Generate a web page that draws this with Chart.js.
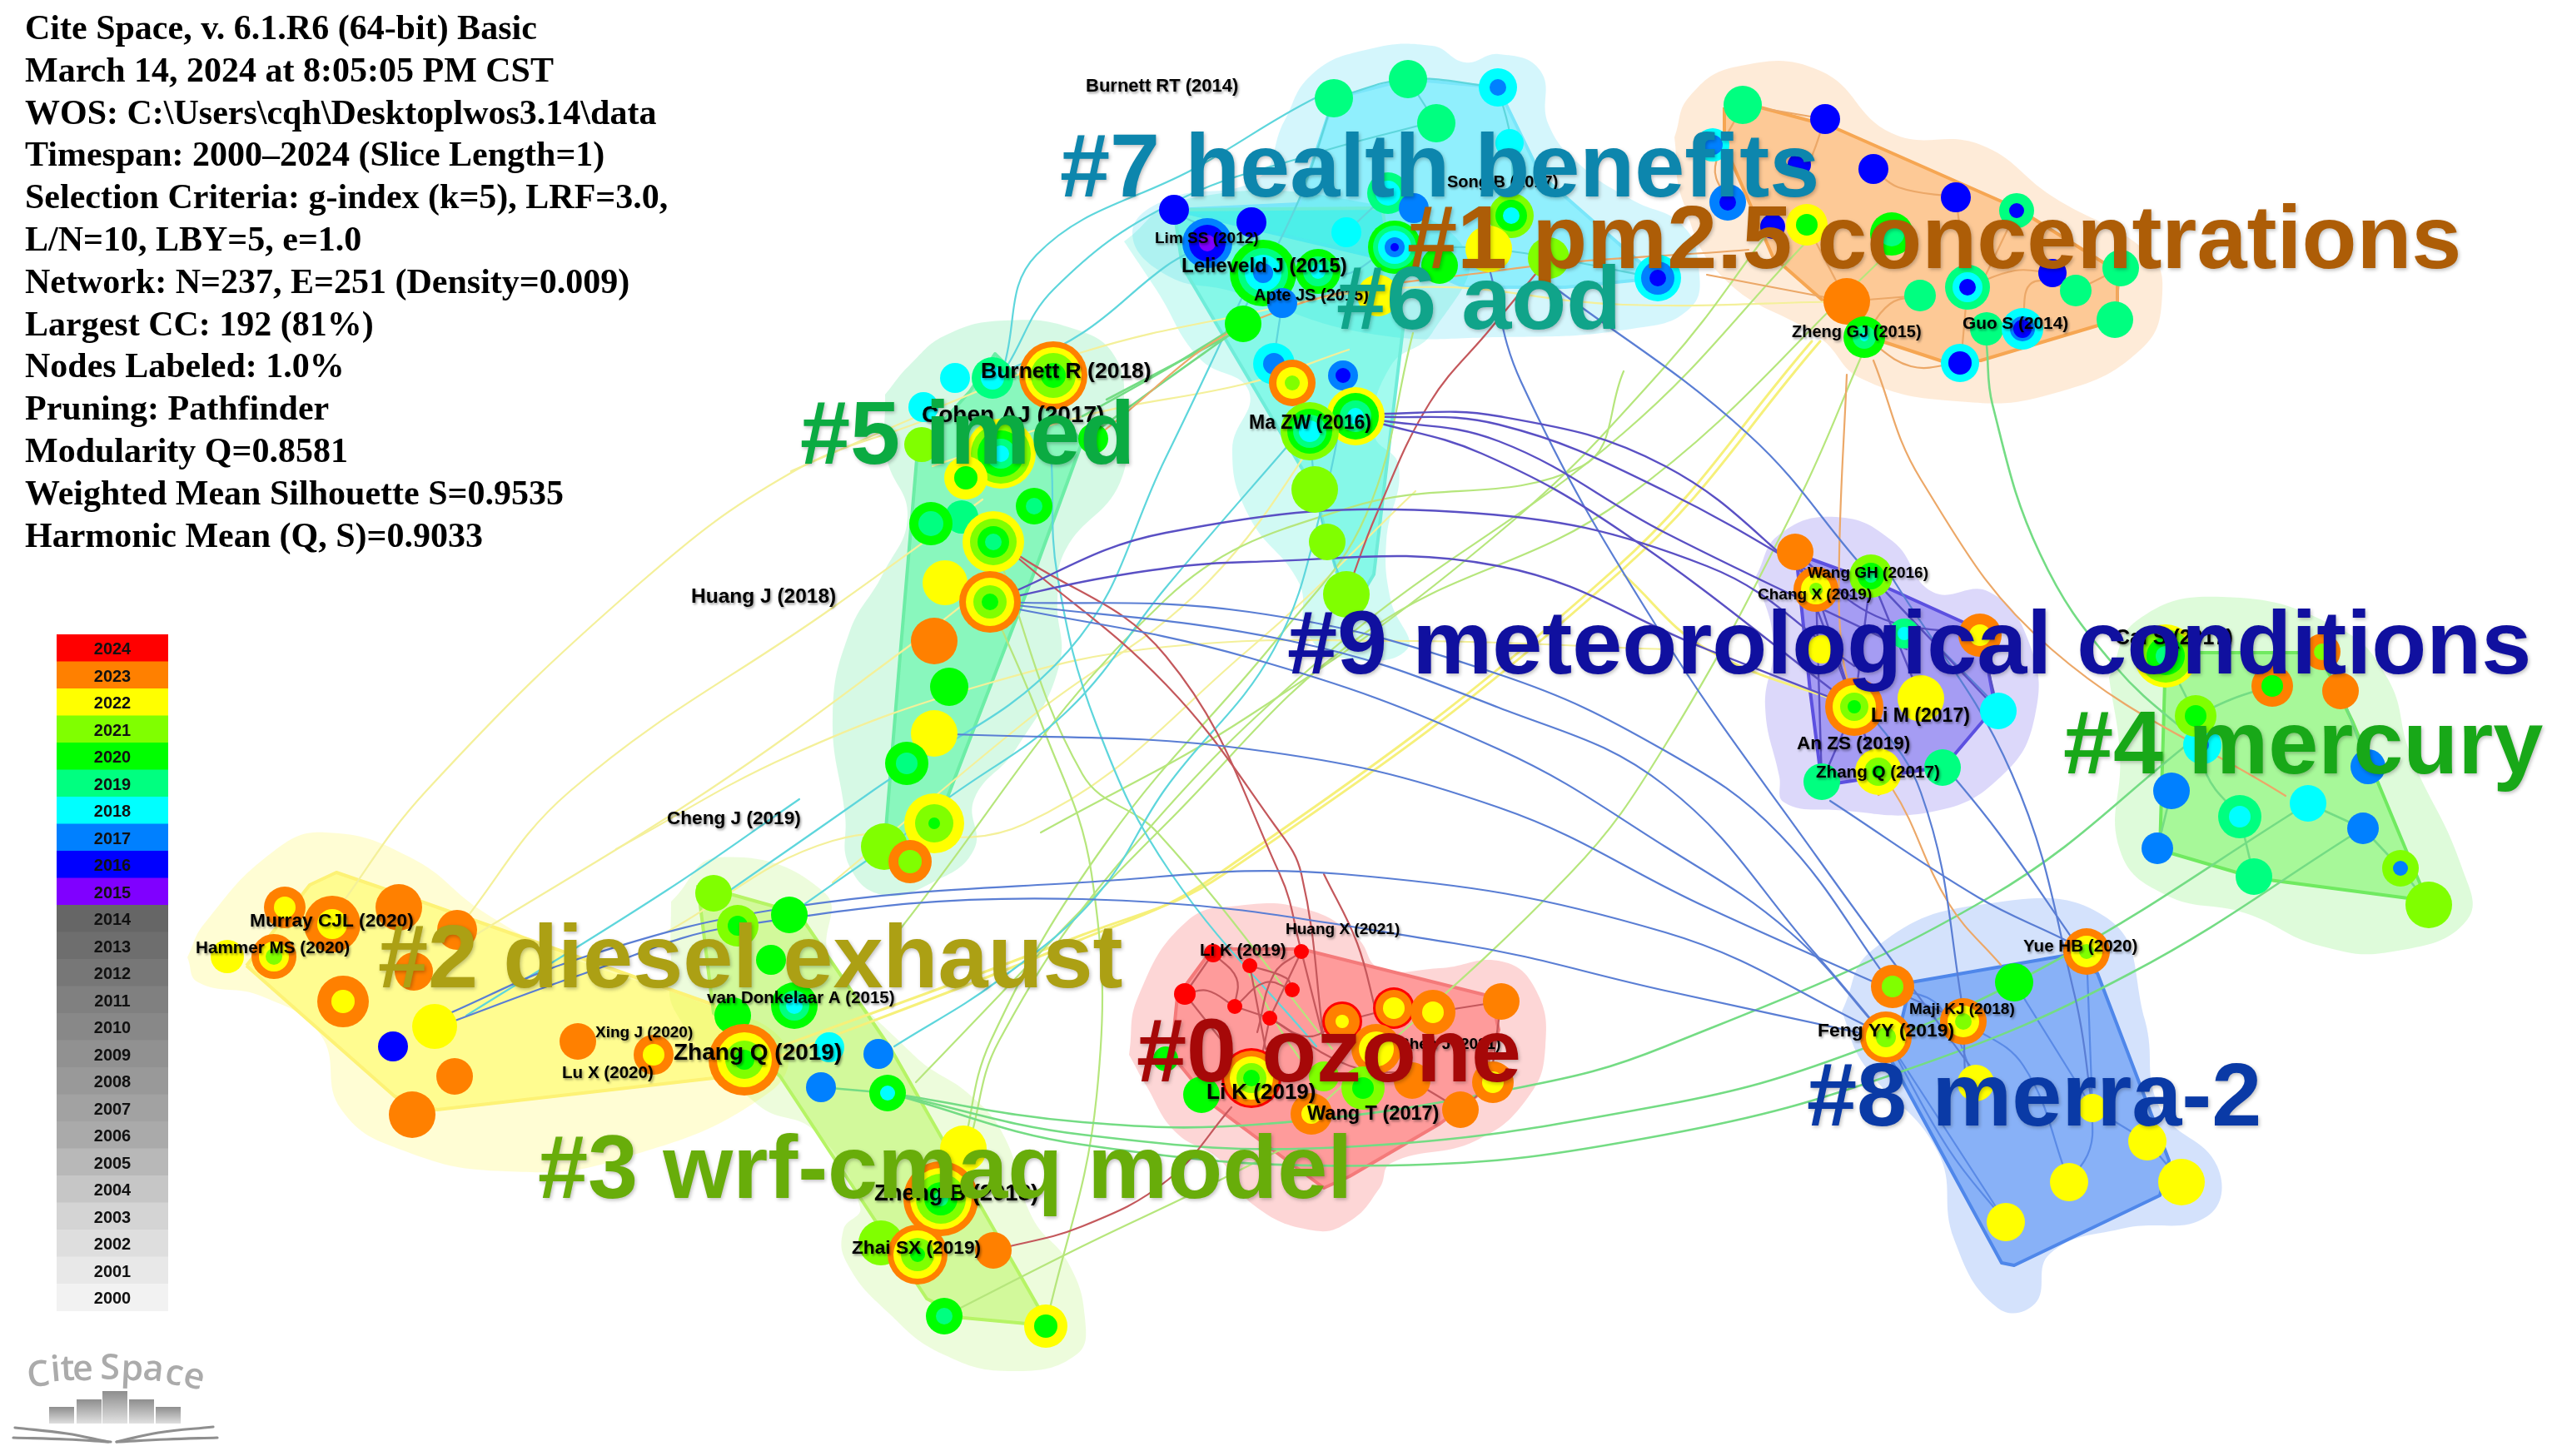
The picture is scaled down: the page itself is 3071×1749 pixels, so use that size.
<!DOCTYPE html>
<html><head><meta charset="utf-8">
<script src="https://cdn.jsdelivr.net/npm/chart.js@4"></script>
<style>html,body{margin:0;padding:0;background:#fff;overflow:hidden}canvas{display:block;filter:blur(0.7px)}</style>
</head><body><canvas id="c" width="3071" height="1749"></canvas>
<script>
const infoLines=["Cite Space, v. 6.1.R6 (64-bit) Basic","March 14, 2024 at 8:05:05 PM CST","WOS: C:\\Users\\cqh\\Desktoplwos3.14\\data","Timespan: 2000–2024 (Slice Length=1)","Selection Criteria: g-index (k=5), LRF=3.0,","L/N=10, LBY=5, e=1.0","Network: N=237, E=251 (Density=0.009)","Largest CC: 192 (81%)","Nodes Labeled: 1.0%","Pruning: Pathfinder","Modularity Q=0.8581","Weighted Mean Silhouette S=0.9535","Harmonic Mean (Q, S)=0.9033"];
const legendYears=[2024,2023,2022,2021,2020,2019,2018,2017,2016,2015,2014,2013,2012,2011,2010,2009,2008,2007,2006,2005,2004,2003,2002,2001,2000];
const legendColors=["#ff0000","#ff8000","#ffff00","#80ff00","#00ff00","#00ff80","#00ffff","#0080ff","#0000ff","#8000ff","#666666","#6e6e6e","#777777","#808080","#888888","#919191","#999999","#a2a2a2","#aaaaaa","#b8b8b8","#c6c6c6","#d4d4d4","#dedede","#e8e8e8","#f2f2f2"];
const titleTexts=["#7 health benefits","#1 pm2.5 concentrations","#6 aod","#5 imed","#9 meteorological conditions","#4 mercury","#2 diesel exhaust","#3 wrf-cmaq model","#0 ozone","#8 merra-2"];
const titleX=[1273,1690,1605,961,1546,2478,454,646,1365,2170];
const titleY=[236,322,395,557,809,929,1186,1439,1299,1352];
const titleColors=["#0d86ad","#ad5d07","#10a48a","#0bab42","#10109f","#18a818","#aca014","#68ad0a","#a60808","#0a3aa6"];
const labelTexts=["Burnett RT (2014)","Burnett R (2018)","Cohen AJ (2017)","Lim SS (2012)","Lelieveld J (2015)","Apte JS (2015)","Song B (2017)","Ma ZW (2016)","Huang J (2018)","Cheng J (2019)","Murray CJL (2020)","Hammer MS (2020)","van Donkelaar A (2015)","Xing J (2020)","Lu X (2020)","Zhang Q (2019)","Li K (2019)","Huang X (2021)","Li K (2019)","Wang T (2017)","Shen J (2021)","Zheng B (2018)","Zhai SX (2019)","Zheng GJ (2015)","Guo S (2014)","Wang GH (2016)","Chang X (2019)","Li M (2017)","An ZS (2019)","Zhang Q (2017)","Cai S (2017)","Yue HB (2020)","Maji KJ (2018)","Feng YY (2019)"];
const labelX=[1304,1178,1107,1387,1419,1506,1738,1500,830,801,300,235,849,715,675,809,1441,1544,1449,1570,1680,1050,1023,2152,2357,2171,2111,2247,2158,2181,2540,2430,2293,2183];
const labelY=[110,454,507,292,327,361,225,515,724,990,1113,1145,1205,1246,1295,1273,1148,1122,1320,1345,1260,1442,1506,405,395,694,720,867,900,934,774,1143,1218,1245];
const labelSize=[22,26.5,28,19,24,20,20,23,24.5,22.6,22.7,20.7,20.5,19,20.6,28,20.5,19,26,23.5,19,27.5,22.7,20,20.8,19,19,23,22.5,20.6,25,20.6,19,22.9];
// each node: x, y, then radius/year pairs from the outer tree ring inward
const nodes7=[[1602,118,23,2019],[1691,95,23,2019],[1799,105,23,2018,10,2017],[1725,148,23,2019],[1813,172,17,2018],[1667,232,25,2019,15,2018],[1698,250,18,2017],[1815,259,27,2021,19,2020,10,2018],[1617,279,18,2018],[1729,319,22,2020],[1675,297,32,2020,26,2019,20,2018,12,2017,5,2016],[1788,299,28,2022],[1860,310,25,2021],[1991,334,28,2018,20,2017,10,2016],[2075,243,22,2017,10,2016],[2057,174,20,2018,12,2017]];
const nodes6=[[1410,252,18,2016],[1503,267,18,2016],[1450,292,30,2017,22,2016,10,2015],[1517,328,40,2020,30,2019,22,2018,12,2017],[1583,326,27,2020,18,2019,9,2018],[1540,364,18,2017],[1655,355,25,2022],[1493,389,22,2020],[1530,437,25,2018,13,2017],[1552,460,28,2023,19,2022,9,2021],[1613,451,18,2017,9,2016],[1628,500,35,2022,28,2020,19,2019,10,2018],[1573,518,35,2021,27,2020,20,2019,13,2018],[1579,588,28,2021],[1594,651,22,2021],[1617,714,28,2021]];
const nodes5=[[1147,454,18,2018],[1192,454,25,2019,14,2018],[1265,451,41,2023,34,2022,27,2021,15,2020],[1109,489,18,2018],[1107,534,21,2021],[1202,545,42,2022,36,2021,28,2020,18,2019,10,2018],[1160,574,26,2022,14,2020],[1313,527,18,2020],[1242,608,22,2020,10,2019],[1155,621,20,2019],[1118,629,26,2020,15,2019],[1193,651,37,2022,28,2021,19,2020,10,2019],[1135,700,27,2022],[1189,723,37,2023,29,2022,20,2021,10,2020],[1122,770,28,2023],[1140,825,23,2020],[1122,881,28,2022],[1089,917,26,2020,13,2019],[1122,989,36,2022,23,2021,7,2020],[1062,1017,28,2021],[1093,1035,26,2023,14,2021]];
const nodes2=[[342,1090,25,2023,13,2022],[399,1110,34,2023,18,2022],[479,1090,28,2023],[549,1117,24,2023],[273,1149,20,2022],[329,1149,27,2023,18,2022,10,2021],[497,1167,23,2023],[412,1203,31,2023,14,2022],[522,1233,27,2022],[472,1257,18,2016],[546,1293,22,2023],[495,1339,28,2023],[694,1251,22,2023],[785,1267,24,2023,13,2022]];
const nodes3=[[857,1073,22,2021],[886,1112,25,2021,12,2020],[948,1099,22,2020],[926,1153,18,2020],[954,1208,28,2020,18,2019,10,2018],[880,1220,22,2020],[894,1273,43,2023,33,2022,23,2021,12,2020],[996,1258,18,2018],[1055,1266,18,2017],[986,1306,18,2017],[1066,1313,22,2020,9,2018],[1157,1380,28,2022],[1130,1440,45,2023,37,2022,30,2021,20,2020,9,2019],[1058,1493,27,2021],[1102,1507,36,2023,29,2022,20,2021,9,2020],[1193,1502,22,2023],[1134,1581,22,2020,10,2019],[1256,1593,26,2022,14,2020]];
const nodes0=[[1457,1145,11,2024],[1501,1160,9,2024],[1563,1143,9,2024],[1423,1194,13,2024],[1552,1189,9,2024],[1483,1209,9,2024],[1525,1223,9,2024],[1612,1227,24,2024,21,2023,8,2022],[1674,1211,25,2024,22,2023,13,2022],[1721,1216,27,2023,13,2022],[1803,1203,22,2023],[1653,1260,30,2023,21,2022],[1696,1298,22,2023],[1793,1300,25,2023,13,2022],[1754,1333,22,2023],[1400,1272,15,2020],[1443,1315,22,2020],[1590,1293,18,2021],[1503,1295,36,2024,33,2023,26,2022,18,2021,10,2020],[1637,1307,26,2021,13,2020],[1575,1338,25,2023,12,2022]];
const nodes1=[[2093,126,23,2019],[2192,143,18,2016],[2250,203,18,2016],[2349,237,18,2016],[2422,253,21,2019,9,2016],[2129,272,15,2016],[2161,198,14,2016],[2170,270,25,2022,13,2020],[2272,281,26,2020,15,2019],[2547,322,22,2019],[2465,328,17,2016],[2493,349,19,2019],[2363,345,27,2019,18,2018,10,2016],[2306,355,19,2019],[2218,362,28,2023],[2540,384,22,2019],[2386,395,20,2019],[2429,395,25,2018,15,2017,11,2016],[2239,405,25,2020,14,2019,5,2018],[2354,436,23,2018,14,2016]];
const nodes9=[[2156,663,22,2023],[2247,692,26,2021,16,2020,8,2019],[2181,708,27,2023,18,2022,8,2021],[2287,761,18,2019,8,2018],[2378,763,26,2023,13,2022],[2188,780,17,2022],[2307,839,28,2022],[2227,849,35,2023,26,2022,17,2021,8,2020],[2400,854,22,2018],[2333,922,22,2019],[2188,939,22,2019],[2256,927,28,2022,17,2021,8,2020]];
const nodes4=[[2601,788,38,2022,32,2021,23,2020,12,2019],[2789,783,22,2023,10,2021],[2729,824,25,2023,13,2020],[2811,830,22,2023],[2645,895,23,2018,8,2017],[2637,860,25,2021,13,2020],[2844,921,21,2017],[2608,950,22,2017],[2690,981,26,2019,13,2018],[2772,965,22,2018],[2838,995,19,2017],[2591,1019,19,2017],[2883,1043,22,2021,9,2017],[2707,1053,22,2019],[2917,1087,28,2021]];
const nodes8=[[2506,1143,28,2023,19,2022,9,2021],[2273,1185,26,2023,13,2021],[2419,1180,23,2020],[2358,1227,28,2023,19,2022,10,2021],[2265,1246,31,2023,24,2022,12,2021],[2373,1301,22,2022],[2513,1331,17,2022],[2579,1371,23,2022],[2620,1420,28,2022],[2485,1420,23,2022],[2409,1468,23,2022]];
// cluster shapes: [x,y,...]
const outerBlobs=[
[1540,150,1575,90,1640,60,1720,55,1760,75,1800,65,1850,85,1860,150,1900,200,1960,240,2020,270,2040,320,2030,370,1960,395,1800,405,1640,400,1480,350,1400,330,1360,280,1400,240,1510,215],
[1350,290,1420,240,1620,240,1760,300,1720,400,1670,440,1650,520,1680,560,1665,650,1670,720,1690,780,1610,790,1570,760,1560,700,1500,620,1480,540,1500,470,1440,430,1390,350],
[1063,474,1093,438,1137,402,1207,385,1290,395,1340,430,1350,500,1345,580,1280,660,1270,720,1272,800,1220,900,1170,960,1170,1020,1120,1060,1060,1075,1020,1040,1015,980,1000,860,1020,760,1060,690,1090,620,1065,550],
[225,1150,245,1110,328,1023,391,1000,493,1030,583,1097,685,1150,838,1203,940,1250,927,1310,742,1393,608,1407,487,1383,410,1333,385,1243,315,1197,238,1180],
[806,1083,863,1030,991,1073,997,1150,1097,1267,1167,1317,1207,1367,1240,1463,1283,1517,1303,1583,1293,1627,1217,1647,1133,1627,1067,1577,1017,1517,1013,1477,1033,1450,980,1360,910,1327,812,1217,806,1150],
[1356,1267,1367,1197,1425,1107,1487,1088,1568,1092,1630,1127,1657,1163,1729,1163,1804,1155,1845,1190,1856,1257,1836,1317,1773,1370,1671,1397,1657,1427,1621,1467,1577,1478,1505,1447,1465,1393,1412,1360,1376,1303],
[2011,165,2029,116,2086,80,2186,85,2272,160,2379,174,2465,236,2579,303,2597,352,2572,419,2465,473,2350,482,2236,455,2186,406,2071,335,2021,241],
[2109,692,2137,642,2205,621,2273,650,2321,711,2389,711,2437,772,2444,860,2403,933,2321,975,2205,973,2143,964,2137,933,2120,849,2130,772],
[2533,814,2567,745,2669,717,2806,753,2867,814,2895,906,2956,1040,2963,1105,2874,1143,2786,1136,2697,1097,2601,1075,2546,1021,2546,906],
[2212,1215,2249,1141,2376,1087,2531,1103,2576,1225,2594,1331,2663,1401,2651,1461,2548,1476,2462,1506,2444,1566,2399,1571,2347,1489,2327,1383,2238,1278]];
const innerHulls=[
[1602,118,1691,95,1799,105,1850,210,1991,334,1880,345,1760,345,1700,320,1410,252,1560,245],
[1410,252,1660,250,1685,395,1650,690,1620,740,1578,587,1420,320],
[1102,540,1165,470,1195,425,1240,470,1300,530,1245,680,1137,960,1100,1010,1062,1020,1080,800],
[296,1160,372,1063,404,1048,506,1083,857,1207,901,1290,525,1333,474,1317],
[838,1063,959,1097,1070,1260,1247,1570,1233,1590,1157,1583,1113,1560,937,1293,857,1217],
[1456,1140,1563,1140,1791,1197,1800,1237,1773,1317,1729,1350,1621,1413,1590,1427,1456,1327,1407,1267,1414,1197],
[2071,129,2114,129,2200,152,2422,250,2543,326,2543,384,2379,433,2336,435,2236,402,2129,308,2071,174],
[2157,665,2253,700,2379,757,2396,849,2335,921,2205,941,2188,941,2174,830],
[2601,784,2785,784,2826,868,2915,1082,2710,1055,2594,1021],
[2295,1180,2479,1148,2519,1169,2605,1394,2594,1436,2419,1520,2404,1517,2272,1275]];
const blobColors=["rgba(0,200,235,.17)","rgba(0,225,195,.18)","rgba(0,215,95,.16)","rgba(255,245,60,.22)","rgba(150,240,50,.17)","rgba(245,60,60,.21)","rgba(250,150,50,.19)","rgba(70,50,230,.19)","rgba(70,235,50,.18)","rgba(40,110,240,.20)"];
const hullColors=["rgba(0,225,255,.32)","rgba(0,245,210,.36)","rgba(0,245,120,.36)","rgba(255,250,50,.42)","rgba(165,245,50,.38)","rgba(255,50,50,.36)","rgba(250,150,50,.40)","rgba(60,40,230,.34)","rgba(70,245,40,.36)","rgba(30,110,240,.42)"];
const hullEdges=["#7ae6fa","#6fecd9","#6ceda6","#fdf275","#b6f465","#f47a7a","#f6a652","#5c50e0","#70ea60","#4f87ea"];
// links as curved paths through read-off points
const linksYellow=[[400,1100,512,950,769,700,950,568,1110,505],[549,1117,685,950,1000,730,1180,600],[560,1130,850,950,1100,770,1190,700],[740,1020,950,907,1183,822,1400,777,1700,770,2000,780],[950,566,1150,480,1300,423,1469,383,1700,345,1950,366,2218,362],[1000,1060,1240,860,1450,700,1620,470],[1120,560,1300,500,1500,460,1620,420],[800,1120,1000,1010,1230,990,1500,780,1700,590]];
const linksYellowThick=[[2186,410,1950,683,1470,1050,1300,1123,894,1273],[2176,410,1940,683,1460,1052,1295,1130,894,1285],[1950,690,2050,780,2227,849]];
const linksLime=[[2239,420,2157,607,2000,895,1885,1050,1575,1338],[1134,1581,1300,1497,1434,1433,1540,1380],[1189,723,1250,867,1311,1050,1317,1317,1256,1593],[1157,1380,1190,1250,1330,1010,1540,760,1640,620,1697,400],[1165,1370,1200,1250,1350,1030,1600,780,1950,520,2170,290],[1100,1300,1400,990,1640,760,1950,600,2272,300],[1250,1000,1500,860,1800,640,2000,440,2129,272],[1070,1130,1400,720,1620,610,1900,560,1950,446],[1193,651,1300,930,1390,1000,1600,1260],[1500,1170,1560,1270,1590,1290]];
const linksBlue=[[1189,723,1500,735,1800,810,2000,902,2137,1002,2273,1185],[1189,723,1550,770,1800,850,2000,944,2178,1143,2265,1246],[1189,725,1500,790,1800,900,2000,1017,2150,1120,2265,1246],[1122,881,1500,900,1800,970,2050,1090,2358,1227],[522,1225,700,1150,948,1090,1300,1060,1612,1050,2000,1120,2258,1240],[522,1235,700,1170,886,1112,1300,1080,1746,1133,2000,1190,2258,1246],[1788,320,1827,459,1988,750,2184,1032,2373,1290],[1860,340,2100,522,2247,692,2400,850],[2198,962,2376,1078,2478,1128,2506,1143],[2324,906,2400,1000,2492,1132],[2225,830,2307,952,2355,1197,2360,1290],[2270,690,2416,929,2492,1197,2513,1331]];
const linksPurple=[[1645,497,1800,500,2000,560,2180,700],[1645,500,1800,510,2000,590,2230,720],[1645,503,1800,530,2000,640,2290,780],[1645,505,1780,545,1950,640,2227,849],[1189,723,1400,640,1750,615,2050,680,2227,800],[1189,723,1350,690,1500,675,1800,680,2050,780,2227,849],[2156,663,2253,740,2378,763],[2181,708,2227,849],[2247,692,2227,849],[2247,692,2307,839],[2247,692,2400,854],[2181,708,2188,939],[2227,849,2188,939],[2156,663,2227,849],[2378,763,2400,854],[2227,849,2256,927]];
const linksRed=[[1220,665,1400,788,1537,1050,1563,1143],[1220,668,1400,822,1530,990,1563,1050,1590,1250],[1860,310,1790,395,1717,484,1653,618,1617,714],[1590,1050,1630,1133,1653,1217],[1193,1502,1300,1473,1403,1417,1479,1330],[1457,1145,1423,1194],[1423,1194,1450,1190,1483,1209],[1457,1145,1485,1175,1483,1209],[1501,1160,1545,1175,1552,1189],[1563,1143,1525,1223],[1563,1143,1530,1170,1510,1240],[1483,1209,1525,1223],[1483,1209,1520,1180,1552,1189],[1525,1223,1570,1245,1612,1227],[1612,1227,1674,1211],[1721,1216,1803,1203],[1803,1203,1790,1300],[1754,1333,1793,1300],[1696,1298,1754,1333],[1563,1143,1590,1250],[1501,1160,1520,1260],[1525,1223,1510,1295],[1423,1194,1503,1295],[1525,1223,1620,1280,1700,1290]];
const linksTeal=[[1206,439,1245,306,1441,199,1581,117,1602,118],[1210,439,1266,347,1406,245,1581,184,1715,148],[1210,445,1300,400,1400,320,1450,292],[876,1070,1048,950,1283,782,1400,550,1500,340],[948,1099,1042,1033,1090,1000],[1074,1257,1200,1177,1317,1076,1400,947,1530,780,1590,600,1620,450],[1137,960,1283,853,1400,706,1560,520],[1263,558,1270,692,1317,871,1407,1050,1581,1257],[1602,118,1691,95,1799,105],[1691,95,1725,148],[1799,105,1815,172,1815,259],[1617,279,1667,232],[1530,430,1540,364],[1579,588,1594,651,1617,714],[1573,518,1579,588],[1675,297,1800,300,1991,334],[1602,118,1560,240,1490,380],[1400,252,1600,330,1680,290],[560,1220,800,1070,960,960]];
const linksGreen=[[1067,1313,1300,1348,1520,1350,1822,1307,2000,1257,2389,1078,2645,880],[1067,1313,1300,1363,1612,1378,2000,1327,2226,1264,2467,1155,2772,965],[1067,1313,1300,1375,1670,1400,2000,1363,2290,1285,2559,1169,2838,995],[986,1306,1067,1313],[2386,415,2393,486,2450,665,2540,800,2650,900],[2601,788,2637,860],[2637,860,2680,840,2729,824],[2637,860,2650,930,2690,981],[2608,950,2591,1019],[2690,981,2707,1053],[2772,965,2838,995],[2811,830,2844,921],[2838,995,2883,1043],[2883,1043,2917,1087],[1329,480,1476,403],[1300,500,1400,444,1473,399],[1300,530,1400,457,1473,405]];
const linksOrange=[[2250,433,2307,576,2464,780,2745,956],[2218,450,2209,665,2212,780,2227,849],[2256,955,2273,948,2341,1086,2403,1159],[1313,527,1511,383,1800,325,2100,300],[2093,126,2192,143],[2192,143,2170,200,2161,198],[2250,203,2280,225,2349,237],[2349,237,2363,345],[2218,362,2306,355],[2170,270,2218,362],[2239,405,2270,365,2306,355],[2363,345,2420,325,2465,328],[2429,395,2440,340,2493,349],[2493,349,2547,322],[2547,322,2540,384],[2354,436,2295,440,2239,405],[2363,345,2355,436],[2422,253,2385,330],[2050,330,2218,362],[2093,126,2060,200,2075,243]];
const linksPale=[[2273,1185,2330,1210,2373,1301],[2358,1227,2430,1280,2485,1420],[2513,1331,2510,1380,2485,1420],[2506,1143,2513,1331],[2419,1180,2513,1331],[2513,1331,2579,1371],[2579,1371,2620,1420],[2265,1246,2409,1468],[2265,1246,2340,1380,2409,1468]];
const logoLetters=["C","i","t","e","S","p","a","c","e"];
const logoX=[48,68,82,100,132,158,183,207,230];
const logoY=[1665,1659,1658,1658,1657,1658,1658,1663,1667];
const logoTilt=[-8,-5,-3,-2,0,3,6,11,14];
const logoBarX=[74,107,138,170,202];
const logoBarTop=[1690,1681,1671,1681,1690];
const logoBook=[[18,1715,80,1722,130,1732],[16,1727,80,1729,133,1732],[140,1732,190,1721,256,1714],[140,1732,200,1729,261,1727]];

const pts=f=>{const o=[];for(let i=0;i<f.length;i+=2)o.push({x:f[i],y:f[i+1]});return o;};
const closed=f=>{const p=pts(f);p.push({...p[0]});return p;};
const yearColor=y=>legendColors[legendYears.indexOf(y)];
const ds=[];
const curve=(f,color,w,tension)=>ds.push({type:'scatter',showLine:true,data:pts(f),borderColor:color,borderWidth:w,pointRadius:0,tension:tension,fill:false,borderCapStyle:'round'});
outerBlobs.forEach((b,i)=>ds.push({type:'scatter',showLine:true,data:closed(b),backgroundColor:blobColors[i],borderWidth:0,borderColor:'transparent',pointRadius:0,tension:.45,fill:'shape'}));
innerHulls.forEach((b,i)=>ds.push({type:'scatter',showLine:true,data:closed(b),backgroundColor:hullColors[i],borderColor:hullEdges[i],borderWidth:4,borderJoinStyle:'round',pointRadius:0,tension:0,fill:'shape'}));
linksPale.forEach(l=>curve(l,'#5a8ae6',2.2,.4));
linksYellow.forEach(l=>curve(l,'#f4f09a',2.2,.4));
linksYellowThick.forEach(l=>curve(l,'#f6f07a',3,.4));
linksLime.forEach(l=>curve(l,'#b6e67c',2.2,.4));
linksTeal.forEach(l=>curve(l,'#5ed6dc',2.2,.4));
linksGreen.forEach(l=>curve(l,'#74dc84',2.6,.4));
linksOrange.forEach(l=>curve(l,'#eca868',2.2,.4));
linksRed.forEach(l=>curve(l,'#c4585c',2.2,.4));
linksBlue.forEach(l=>curve(l,'#5a7ed4',2.2,.4));
linksPurple.forEach(l=>curve(l,'#5a50c4',2.4,.4));
const ringPoints=[];
[nodes7,nodes6,nodes5,nodes2,nodes3,nodes0,nodes1,nodes9,nodes4,nodes8].forEach(group=>group.forEach(n=>{
  for(let k=2;k<n.length;k+=2)ringPoints.push({x:n[0],y:n[1],r:n[k],year:n[k+1]});
}));
ds.push({type:'bubble',data:ringPoints,borderWidth:0,backgroundColor:c=>yearColor(c.raw.year),hoverBackgroundColor:c=>yearColor(c.raw.year)});
legendYears.forEach((y,i)=>{const yc=778.5+i*32.5;ds.push({type:'scatter',showLine:true,data:[{x:68,y:yc},{x:202,y:yc}],borderColor:legendColors[i],borderWidth:33,borderCapStyle:'butt',pointRadius:0,fill:false});});
logoBarX.forEach((x,i)=>ds.push({type:'scatter',showLine:true,data:[{x:x,y:logoBarTop[i]},{x:x,y:1710}],borderWidth:30,borderCapStyle:'butt',pointRadius:0,fill:false,
  borderColor:c=>{const a=c.chart.chartArea;if(!a)return '#aaa';const s=c.chart.scales.y;const g=c.chart.ctx.createLinearGradient(0,s.getPixelForValue(logoBarTop[i]),0,s.getPixelForValue(1712));g.addColorStop(0,'#8e8e8e');g.addColorStop(1,'#e6e6e6');return g;}}));
logoBook.forEach(l=>curve(l,'#8f8f8f',3.2,.4));
ds.forEach((d,i)=>{d.order=ds.length-i;});

const textPlugin={id:'texts',afterDatasetsDraw(chart){
  const c=chart.ctx,sx=chart.scales.x,sy=chart.scales.y;const X=v=>sx.getPixelForValue(v),Y=v=>sy.getPixelForValue(v);
  c.save();c.textBaseline='alphabetic';c.textAlign='left';
  c.fillStyle='#000';c.font='bold 42px "Liberation Serif"';
  infoLines.forEach((t,i)=>c.fillText(t,X(30),Y(47+i*50.8)));
  c.font='bold 20px "Liberation Sans"';c.textAlign='center';c.fillStyle='#111';
  legendYears.forEach((y,i)=>c.fillText(String(y),X(135),Y(786+i*32.5)));
  c.textAlign='left';
  c.font='600 43px "Open Sans"';c.fillStyle='#ababab';c.textAlign='center';
  logoLetters.forEach((l,i)=>{c.save();c.translate(X(logoX[i]),Y(logoY[i]));c.rotate(logoTilt[i]*Math.PI/180);c.fillText(l,0,0);c.restore();});
  c.textAlign='left';
  c.fillStyle='#000';c.shadowColor='rgba(0,0,0,.4)';c.shadowBlur=3;c.shadowOffsetX=1.5;c.shadowOffsetY=1.5;
  labelTexts.forEach((t,i)=>{c.font='bold '+labelSize[i]+'px "Liberation Sans"';c.fillText(t,X(labelX[i]),Y(labelY[i]));});
  c.font='bold 108px "Liberation Sans"';c.shadowColor='rgba(0,0,0,.25)';c.shadowBlur=4;
  titleTexts.forEach((t,i)=>{c.fillStyle=titleColors[i];c.fillText(t,X(titleX[i]),Y(titleY[i]));});
  c.restore();
}};
new Chart(document.getElementById('c'),{type:'scatter',data:{datasets:ds},plugins:[textPlugin],options:{
  responsive:false,animation:false,devicePixelRatio:1,layout:{padding:0,autoPadding:false},events:[],
  plugins:{legend:{display:false},tooltip:{enabled:false},title:{display:false}},
  scales:{x:{type:'linear',display:false,min:0,max:3071},y:{type:'linear',display:false,min:0,max:1749,reverse:true}}
}});
</script></body></html>
